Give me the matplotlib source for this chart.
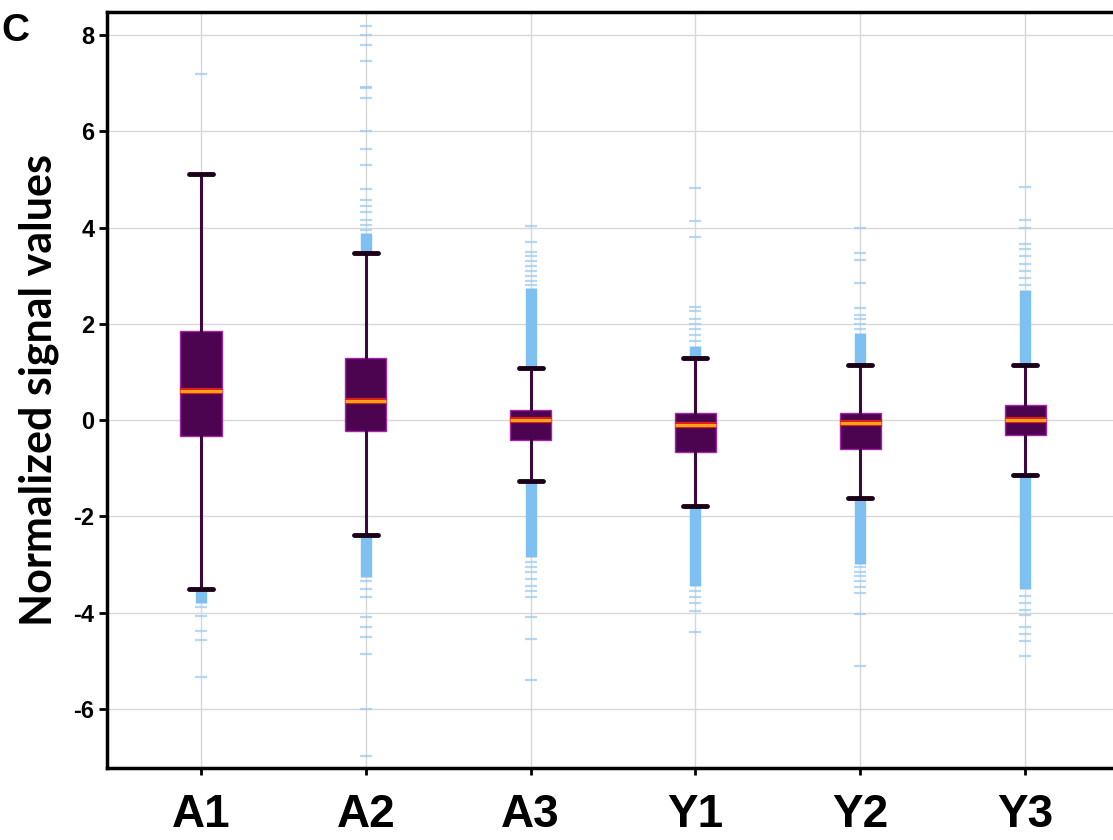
import matplotlib
matplotlib.use("Agg")
import matplotlib.pyplot as plt
import matplotlib.patheffects as pe

# data
groups = ["A1", "A2", "A3", "Y1", "Y2", "Y3"]
q1 = [-0.33, -0.22, -0.42, -0.66, -0.61, -0.31]
med = [0.61, 0.40, 0.00, -0.10, -0.07, 0.00]
q3 = [1.86, 1.28, 0.21, 0.14, 0.14, 0.31]
whislo = [-3.51, -2.38, -1.27, -1.78, -1.61, -1.15]
whishi = [5.12, 3.47, 1.08, 1.28, 1.14, 1.15]

# ranges where the outliers are so dense they merge into a band
band_hi = [(5.12, 5.12), (3.47, 3.88), (1.08, 2.74), (1.28, 1.53), (1.14, 1.80), (1.15, 2.70)]
band_lo = [(-3.51, -3.80), (-2.38, -3.27), (-1.27, -2.85), (-1.78, -3.45), (-1.61, -2.99), (-1.15, -3.50)]

# single outliers
fliers = [
    [7.2, -3.88, -4.07, -4.39, -4.57, -5.34],
    [3.95, 4.05, 4.16, 4.32, 4.45, 4.57, 4.8, 5.3, 5.63, 6.0, 6.7, 6.9, 6.93,
     7.47, 7.8, 8.0, 8.19, -3.35, -3.5, -3.68, -4.1, -4.3, -4.5, -4.86, -6.0, -6.97],
    [2.8, 2.9, 3.0, 3.1, 3.2, 3.3, 3.4, 3.5, 3.7, 4.04, -2.95, -3.05, -3.15,
     -3.3, -3.45, -3.55, -3.68, -4.1, -4.55, -5.4],
    [1.65, 1.77, 1.9, 2.0, 2.1, 2.26, 2.36, 3.8, 4.13, 4.83, -3.55, -3.68,
     -3.8, -3.96, -4.4],
    [1.9, 2.0, 2.1, 2.19, 2.33, 2.85, 3.33, 3.47, 4.0, -3.05, -3.15, -3.25,
     -3.35, -3.47, -3.6, -4.03, -5.1],
    [2.8, 2.95, 3.1, 3.25, 3.4, 3.55, 3.65, 4.0, 4.15, 4.85, -3.65, -3.8,
     -3.95, -4.05, -4.3, -4.45, -4.6, -4.9],
]
yticks = [-6, -4, -2, 0, 2, 4, 6, 8]

fig = plt.figure(figsize=(11.13, 8.4), dpi=100)
ax = fig.add_axes([0.0961, 0.0857, 0.9039, 0.9000])

pos = list(range(1, len(groups) + 1))

# grid
for y in yticks:
    ax.axhline(y, color="#d8d8d8", lw=1, zorder=0)
for x in pos:
    ax.axvline(x, color="#d8d8d8", lw=1, zorder=0)

blue = "#7fc0f2"
for i, x in enumerate(pos):
    for a, b in (band_hi[i], band_lo[i]):
        if a != b:
            ax.vlines(x, a, b, color=blue, lw=8.2, zorder=1)
    ax.plot([x] * len(fliers[i]), fliers[i], ls="none", marker="_",
            ms=8, mew=1.6, color="#9ccbef", alpha=0.75, zorder=1)

stats = []
for i, g in enumerate(groups):
    stats.append(dict(label=g, q1=q1[i], med=med[i], q3=q3[i],
                      whislo=whislo[i], whishi=whishi[i], fliers=[]))

bp = ax.bxp(stats, positions=pos, widths=0.25, capwidths=0.145,
            showfliers=False, patch_artist=True,
            boxprops=dict(facecolor="#4c0350", edgecolor="#a424a8", lw=1.0),
            whiskerprops=dict(color="#3d0840", lw=2.2),
            capprops=dict(color="#1a0018", lw=3.5, solid_capstyle="round"),
            medianprops=dict(color="#ffa31a", lw=2.2))
for m in bp["medians"]:
    m.set_path_effects([pe.Stroke(linewidth=4.5, foreground="#d81e1e"), pe.Normal()])
    m.set_zorder(4)
for c in bp["caps"]:
    c.set_zorder(4)

ax.set_xlim(0.43, 6.533)
ax.set_ylim(-7.23, 8.48)
ax.set_yticks(yticks)
ax.set_yticklabels([str(t) for t in yticks], fontsize=17, fontweight="bold",
                   family="Liberation Sans")
ax.set_xticks(pos)
ax.set_xticklabels(groups, fontsize=33, fontweight="bold", family="Liberation Sans")
ax.tick_params(axis="y", length=6, width=2, pad=3)
ax.tick_params(axis="x", length=5, width=2, pad=13)

for s in ["left", "bottom", "top"]:
    ax.spines[s].set_linewidth(2.5)
ax.spines["right"].set_visible(False)

ax.set_ylabel("Normalized signal values", fontsize=31, fontweight="bold",
              family="Lato", labelpad=10)

fig.text(0.001, 0.985, "C", fontsize=28, fontweight="bold",
         family="Liberation Sans", va="top", ha="left")

fig.savefig("out.png", dpi=100)
